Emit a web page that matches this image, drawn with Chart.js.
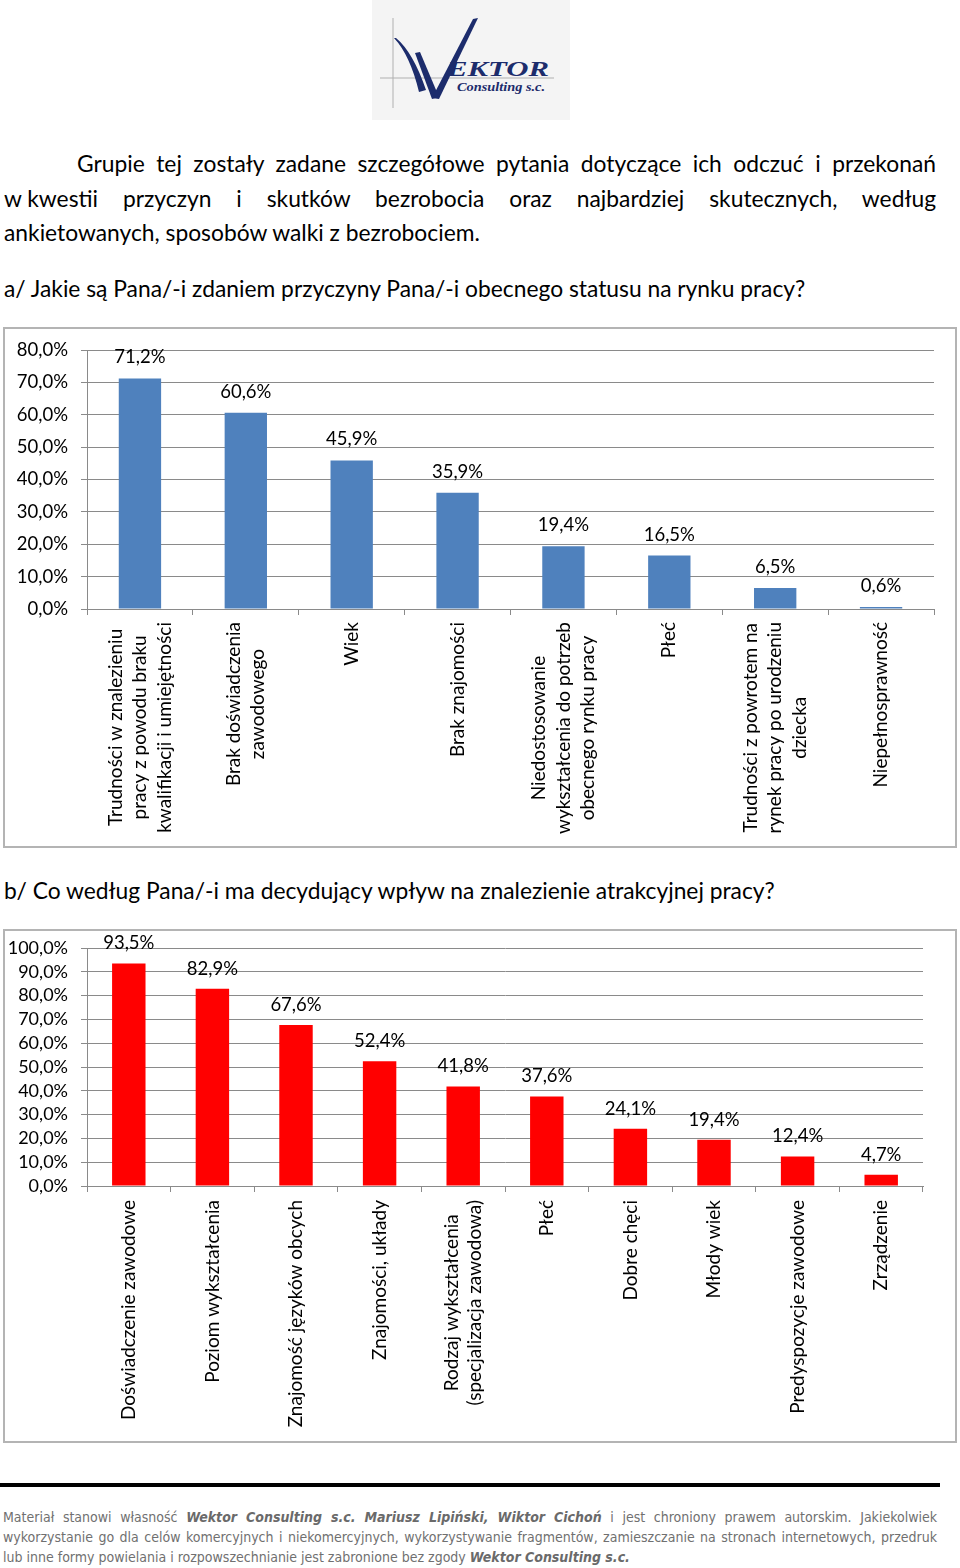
<!DOCTYPE html>
<html><head><meta charset="utf-8">
<script src="https://cdn.jsdelivr.net/npm/chart.js@4.4.0/dist/chart.umd.min.js"></script>
<style>
body{margin:0;width:960px;height:1568px;position:relative;background:#fff;overflow:hidden;font-family:Lato,'Open Sans',sans-serif;color:#000}
.ln{position:absolute;left:4px;width:932px;font-size:22.8px;line-height:34px;white-space:nowrap}
.j{text-align:justify;text-align-last:justify}
.ib{display:inline-block}
.box{position:absolute;left:3px;border:2px solid #b4b4b4;box-sizing:border-box}
.ft{position:absolute;left:3px;width:934px;font-family:'Liberation Sans Narrow','DejaVu Sans Condensed',sans-serif;font-size:14px;line-height:20px;color:#707070;white-space:nowrap}
.ft b{font-style:italic;color:#6a6a6a}
canvas{position:absolute;left:0;top:0}
</style></head><body>

<svg style="position:absolute;left:372px;top:0" width="198" height="120">
<rect width="198" height="120" fill="#f4f4f4"/>
<line x1="21" y1="18" x2="21" y2="108" stroke="#b0b0b0" stroke-width="1"/>
<line x1="8" y1="78" x2="182" y2="78" stroke="#b0b0b0" stroke-width="1"/>
<path d="M22,38 Q38,55 47,92 L54,90 Q41,52 24,38 Z" fill="#1c2c6c"/>
<path d="M43,53 L48,52 L67,97 L60,99 Z" fill="#1c2c6c"/>
<path d="M60,98 L67,99 L106,18 L101,19 Z" fill="#1c2c6c"/>
<text x="75" y="76" font-family="Liberation Serif" font-style="italic" font-weight="bold" font-size="21" fill="#1c2c6c" textLength="102" lengthAdjust="spacingAndGlyphs">EKTOR</text>
<text x="85" y="91" font-family="Liberation Serif" font-style="italic" font-weight="bold" font-size="12" fill="#1c2c6c" textLength="88" lengthAdjust="spacingAndGlyphs">Consulting s.c.</text>
</svg>

<div class="ln j" style="top:146px;left:77px;width:859px">Grupie tej zostały zadane szczegółowe pytania dotyczące ich odczuć i przekonań</div>
<div class="ln j" style="top:181px"><span class="ib">w kwestii</span> przyczyn i skutków bezrobocia oraz najbardziej skutecznych, według</div>
<div class="ln" style="top:215px">ankietowanych, sposobów walki z bezrobociem.</div>
<div class="ln" style="top:271px">a/ Jakie są Pana/-i zdaniem przyczyny Pana/-i obecnego statusu na rynku pracy?</div>

<div class="box" style="top:327px;width:954px;height:521px"><canvas id="c1" width="950" height="517"></canvas></div>

<div class="ln" style="top:873px">b/ Co według Pana/-i ma decydujący wpływ na znalezienie atrakcyjnej pracy?</div>

<div class="box" style="top:929px;width:954px;height:514px"><canvas id="c2" width="950" height="510"></canvas></div>

<div style="position:absolute;left:0;top:1483px;width:940px;height:4px;background:#000"></div>
<div class="ft j" style="top:1507px">Materiał stanowi własność <b>Wektor Consulting s.c. Mariusz Lipiński, Wiktor Cichoń</b> i jest chroniony prawem autorskim. Jakiekolwiek</div>
<div class="ft j" style="top:1527px">wykorzystanie go dla celów komercyjnych i niekomercyjnych, wykorzystywanie fragmentów, zamieszczanie na stronach internetowych, przedruk</div>
<div class="ft" style="top:1547px">lub inne formy powielania i rozpowszechnianie jest zabronione bez zgody <b>Wektor Consulting s.c.</b></div>

<script>
const catsA = [
  ["Trudności w znalezieniu","pracy z powodu braku","kwalifikacji i umiejętności"],
  ["Brak doświadczenia","zawodowego"],
  ["Wiek"],
  ["Brak znajomości"],
  ["Niedostosowanie","wykształcenia do potrzeb","obecnego rynku pracy"],
  ["Płeć"],
  ["Trudności z powrotem na","rynek pracy po urodzeniu","dziecka"],
  ["Niepełnosprawność"]
];
const valsA = [71.2, 60.6, 45.9, 35.9, 19.4, 16.5, 6.5, 0.6];
const yMaxA = 80;

const catsB = [
  ["Doświadczenie zawodowe"],
  ["Poziom wykształcenia"],
  ["Znajomość języków obcych"],
  ["Znajomości, układy"],
  ["Rodzaj wykształcenia","(specjalizacja zawodowa)"],
  ["Płeć"],
  ["Dobre chęci"],
  ["Młody wiek"],
  ["Predyspozycje zawodowe"],
  ["Zrządzenie"]
];
const valsB = [93.5, 82.9, 67.6, 52.4, 41.8, 37.6, 24.1, 19.4, 12.4, 4.7];
const yMaxB = 100;
const yStep = 10;

const FONT = "Lato, 'Open Sans', sans-serif";
const fmt = v => v.toFixed(1).replace('.', ',') + '%';

const xLabelPlugin = {
  id: 'xlab',
  afterDraw(chart, args, o) {
    const sc = chart.scales.x, ctx = chart.ctx;
    ctx.save();
    ctx.font = o.size + 'px ' + FONT;
    ctx.fillStyle = '#000';
    ctx.textAlign = 'center';
    ctx.textBaseline = 'middle';
    chart.data.labels.forEach((lines, i) => {
      const x = sc.getPixelForTick(i);
      const w = Math.max(...lines.map(l => ctx.measureText(l).width));
      const cy = sc.top + o.pad + w / 2;
      const n = lines.length;
      ctx.save();
      ctx.translate(x, cy);
      ctx.rotate(-Math.PI / 2);
      lines.forEach((l, k) => ctx.fillText(l, 0, (k - (n - 1) / 2) * o.lh));
      ctx.restore();
    });
    ctx.restore();
  }
};
const valLabelPlugin = {
  id: 'vlab',
  afterDatasetsDraw(chart, args, o) {
    const ctx = chart.ctx, meta = chart.getDatasetMeta(0);
    ctx.save();
    ctx.font = o.size + 'px ' + FONT;
    ctx.fillStyle = '#000';
    ctx.textAlign = 'center';
    ctx.textBaseline = 'middle';
    meta.data.forEach((bar, i) => {
      ctx.fillText(fmt(chart.data.datasets[0].data[i]), bar.x, bar.y - o.off);
    });
    ctx.restore();
  }
};

function makeChart(id, labels, values, color, yMax, c) {
  const ch = new Chart(document.getElementById(id), {
    type: 'bar',
    data: { labels, datasets: [{ data: values, backgroundColor: color, barPercentage: c.bp, categoryPercentage: 1 }] },
    options: {
      responsive: false, animation: false,
      layout: { padding: { left: 0, top: c.top, right: c.right, bottom: 0 } },
      plugins: {
        legend: { display: false }, tooltip: { enabled: false },
        xlab: { size: c.xs, pad: c.xpad, lh: c.lh },
        vlab: { size: c.vs, off: c.off }
      },
      scales: {
        x: {
          grid: { display: true, drawOnChartArea: false, drawTicks: true, tickLength: 6, color: '#8a8a8a', offset: true },
          border: { color: '#8a8a8a' },
          ticks: { display: false },
          afterFit(s) { s.height = c.xh; }
        },
        y: {
          min: 0, max: yMax,
          ticks: { stepSize: yStep, autoSkip: false, padding: 13, color: '#000',
                   font: { family: FONT, size: c.ys, lineHeight: 0.2 }, callback: v => fmt(v) },
          grid: { color: '#8a8a8a', tickLength: 6 },
          border: { color: '#8a8a8a' },
          afterFit(s) { s.width = 82; }
        }
      }
    },
    plugins: [xLabelPlugin, valLabelPlugin]
  });
  const d = c.top - ch.chartArea.top;
  if (Math.abs(d) > 0.25) {
    ch.options.layout.padding.top += d;
    ch.update('none');
  }
  return ch;
}

makeChart('c1', catsA, valsA, '#4f81bd', yMaxA,
  { bp: 0.4, top: 21, right: 21, xh: 517 - 280, xs: 19, xpad: 13, lh: 24.5, vs: 18.5, off: 21, ys: 18.5 });
makeChart('c2', catsB, valsB, '#ff0000', yMaxB,
  { bp: 0.4, top: 17, right: 32, xh: 510 - 255, xs: 19, xpad: 14, lh: 23, vs: 18.5, off: 20, ys: 18 });
</script>
</body></html>
